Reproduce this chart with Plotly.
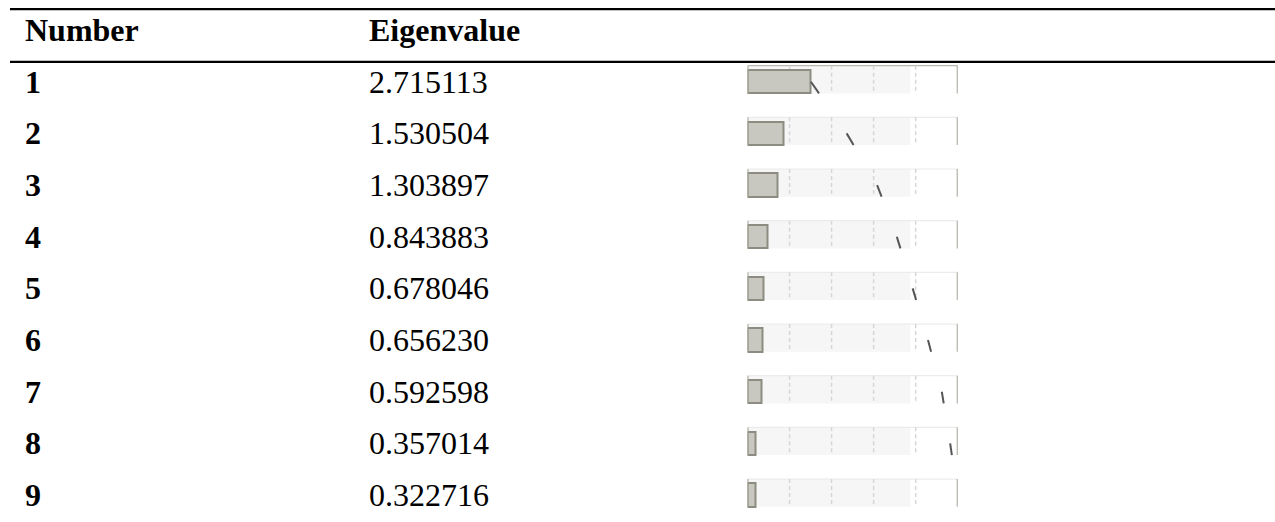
import plotly.graph_objects as go

# ---- data ----
numbers = [1, 2, 3, 4, 5, 6, 7, 8, 9]
eigenvalues = [2.715113, 1.530504, 1.303897, 0.843883, 0.678046,
               0.656230, 0.592598, 0.357014, 0.322716]
headers = ["Number", "Eigenvalue"]
grid_ticks = [20, 40, 60, 80]

total = sum(eigenvalues)
percent = [v / total * 100 for v in eigenvalues]
cum = []
acc = 0.0
for p in percent:
    acc += p
    cum.append(acc)

# ---- style ----
W, H = 1275, 522
FONT = "Liberation Serif"
FS = 32
BAND_TOP = -0.31
BAND_BOT = 0.226
BAR_W = 0.452
SHADE_END = 77.5

fig = go.Figure()

shapes = []
for i, n in enumerate(numbers):
    y0 = n + BAND_TOP
    y1 = n + BAND_BOT
    shapes.append(dict(type="rect", xref="x", yref="y", x0=0, x1=SHADE_END, y0=y0, y1=y1,
                       fillcolor="#f6f6f6", line=dict(width=0), layer="below"))
    shapes.append(dict(type="line", xref="x", yref="y", x0=0, x1=101, y0=y0, y1=y0,
                       line=dict(color="#b8b8ae" if i == 0 else "#ececec", width=1.2), layer="below"))
    for t in grid_ticks:
        shapes.append(dict(type="line", xref="x", yref="y", x0=t, x1=t, y0=y0, y1=y1,
                           line=dict(color="#d6d6d6", width=1.5, dash="4px,3px"), layer="below"))
    for t in (0, 100):
        shapes.append(dict(type="line", xref="x", yref="y", x0=t, x1=t, y0=y0, y1=y1,
                           line=dict(color="#a3a395", width=2)))

# table rules
for yv in (-0.405, 0.617):
    shapes.append(dict(type="line", xref="paper", yref="y", x0=10 / W, x1=1, y0=yv, y1=yv,
                       line=dict(color="#000000", width=2.4)))

# bars
fig.add_trace(go.Bar(x=percent, y=numbers, orientation="h", width=BAR_W,
                     marker=dict(color="#c8c8c0", line=dict(color="#8c8c80", width=2)),
                     hoverinfo="skip", showlegend=False))

# cumulative percent segments
lx, ly = [], []
for i in range(len(numbers) - 1):
    x0 = cum[i]
    x1 = cum[i] + (cum[i + 1] - cum[i]) * BAND_BOT
    lx += [x0, x1, None]
    ly += [numbers[i], numbers[i] + BAND_BOT, None]
fig.add_trace(go.Scatter(x=lx, y=ly, mode="lines", line=dict(color="#555555", width=2),
                         hoverinfo="skip", showlegend=False, cliponaxis=True))

# table text
ann = []
for x_px, h in zip((23, 367), headers):
    ann.append(dict(x=x_px / W, y=0, xref="paper", yref="y", text="<b>%s</b>" % h,
                    showarrow=False, xanchor="left", yanchor="middle",
                    font=dict(family=FONT, size=FS, color="#000")))
for n, v in zip(numbers, eigenvalues):
    ann.append(dict(x=23 / W, y=n, xref="paper", yref="y", text="<b>%d</b>" % n,
                    showarrow=False, xanchor="left", yanchor="middle",
                    font=dict(family=FONT, size=FS, color="#000")))
    ann.append(dict(x=367 / W, y=n, xref="paper", yref="y", text="%.6f" % v,
                    showarrow=False, xanchor="left", yanchor="middle",
                    font=dict(family=FONT, size=FS, color="#000")))

py_top = 81.7
row_px = 51.67
fig.update_layout(
    width=W, height=H,
    margin=dict(l=0, r=0, t=0, b=0),
    paper_bgcolor="white", plot_bgcolor="rgba(0,0,0,0)",
    xaxis=dict(range=[0, 100], domain=[747.5 / W, 957.7 / W], visible=False, fixedrange=True),
    yaxis=dict(range=[1 + (H - py_top) / row_px, 1 - py_top / row_px], domain=[0, 1],
               visible=False, fixedrange=True),
    shapes=shapes, annotations=ann, bargap=0,
)

fig.write_html("out.html", config={"displayModeBar": False},
               post_script="document.body.style.margin='0';document.body.style.padding='0';")
